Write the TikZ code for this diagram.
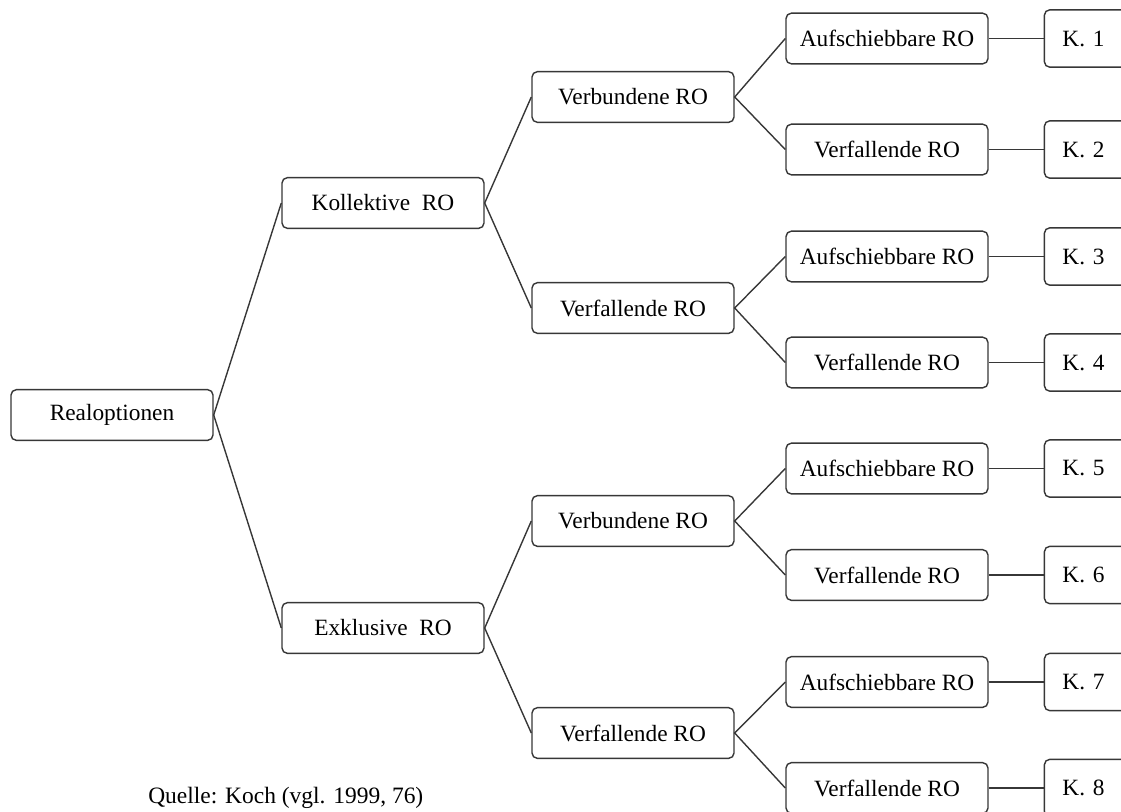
\documentclass[tikz,border=0pt]{standalone}
\usepackage{fontspec}
\setmainfont{Liberation Serif}
\usepackage{xcolor}
\definecolor{boxline}{RGB}{55, 55, 55}
\usepackage{tikz}
\usetikzlibrary{
    positioning
}
\tikzstyle{box} = [
    rectangle, draw,
    rounded corners=4pt,
    minimum width=151.5pt,
    minimum height=38pt,
    text centered,
    align=center,
    draw=boxline,
    line width=1.05pt,
    fill=white,
    font=\fontsize{17.5}{20}\selectfont
]
\tikzstyle{kbox} = [
    box,
    minimum width=75pt,
    minimum height=43pt,
    text width=62pt,
    align=left
]
\tikzstyle{link} = [
    draw=boxline,
    line width=1.05pt
]

\begin{document}
\begin{tikzpicture}[
	x=0.75pt, y=-0.75pt,
	node distance=0.7cm and 41.25pt
]
\clip (0,0) rectangle (1121,811);

\node (ro) [box] at (112,415) {Realoptionen};

\node (kol) [box] at (383,203) {Kollektive\ \ RO};
\node (exk) [box] at (383,628) {Exklusive\ \ RO};

\node (vb1) [box] at (633,97) {Verbundene RO};
\node (vf1) [box] at (633,308) {Verfallende RO};
\node (vb2) [box] at (633,521) {Verbundene RO};
\node (vf2) [box] at (633,733) {Verfallende RO};

\node (a1) [box] at (887,38.5) {Aufschiebbare RO};
\node (f2) [box] at (887,149.5) {Verfallende RO};
\node (a3) [box] at (887,256.5) {Aufschiebbare RO};
\node (f4) [box] at (887,362.5) {Verfallende RO};
\node (a5) [box] at (887,468.5) {Aufschiebbare RO};
\node (f6) [box] at (887,575) {Verfallende RO};
\node (a7) [box] at (887,682) {Aufschiebbare RO};
\node (f8) [box] at (887,788) {Verfallende RO};

\node (k1) [kbox, right=of a1] {\hspace{7pt}K. 1};
\node (k2) [kbox, right=of f2] {\hspace{7pt}K. 2};
\node (k3) [kbox, right=of a3] {\hspace{7pt}K. 3};
\node (k4) [kbox, right=of f4] {\hspace{7pt}K. 4};
\node (k5) [kbox, right=of a5] {\hspace{7pt}K. 5};
\node (k6) [kbox, right=of f6] {\hspace{7pt}K. 6};
\node (k7) [kbox, right=of a7] {\hspace{7pt}K. 7};
\node (k8) [kbox, right=of f8] {\hspace{7pt}K. 8};

\draw [link] (kol.west) -- (ro.east) -- (exk.west);
\draw [link] (vb1.west) -- (kol.east) -- (vf1.west);
\draw [link] (vb2.west) -- (exk.east) -- (vf2.west);
\draw [link] (a1.west) -- (vb1.east) -- (f2.west);
\draw [link] (a3.west) -- (vf1.east) -- (f4.west);
\draw [link] (a5.west) -- (vb2.east) -- (f6.west);
\draw [link] (a7.west) -- (vf2.east) -- (f8.west);

\draw [link] (a1) -- (k1);
\draw [link] (f2) -- (k2);
\draw [link] (a3) -- (k3);
\draw [link] (f4) -- (k4);
\draw [link] (a5) -- (k5);
\draw [link] (f6) -- (k6);
\draw [link] (a7) -- (k7);
\draw [link] (f8) -- (k8);

% Quellenangabe
\node (quelle) [anchor=base west, inner sep=0pt, font=\fontsize{17.6}{21}\selectfont]
    at (148,803) {Quelle: Koch (vgl. 1999, 76)};

\end{tikzpicture}
\end{document}
